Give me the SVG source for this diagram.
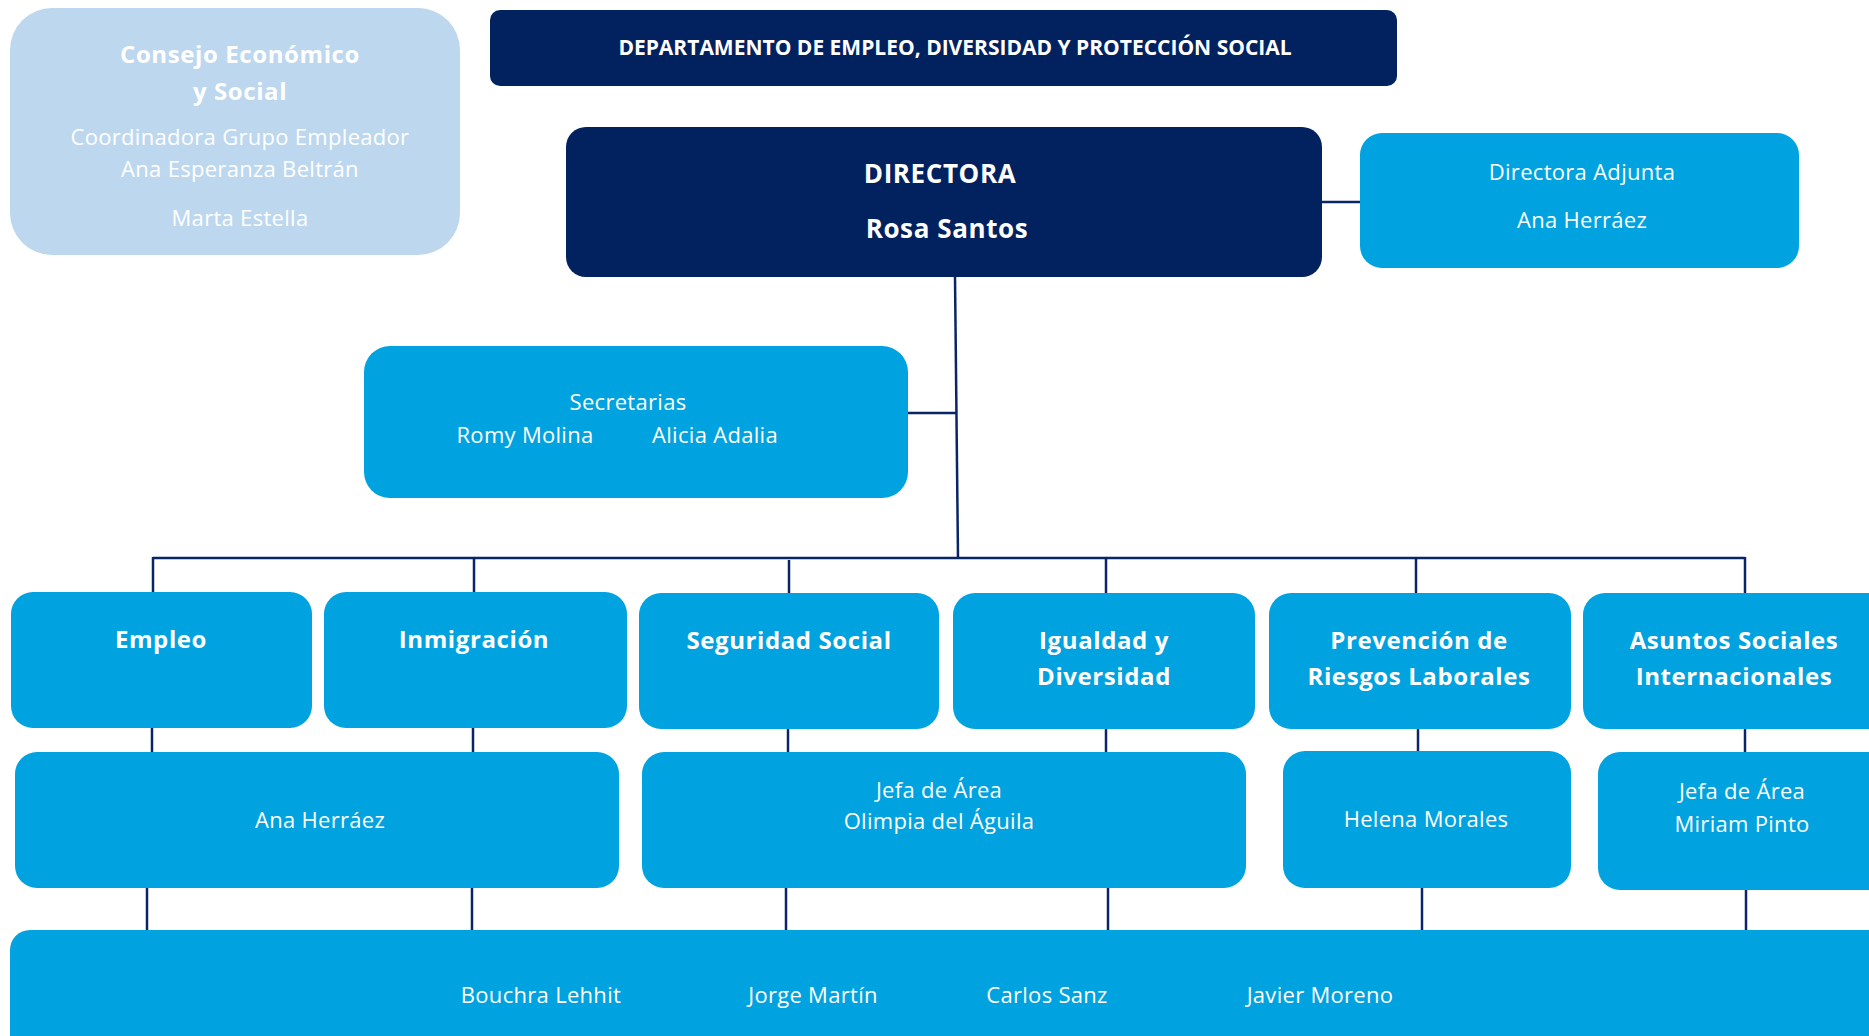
<svg xmlns="http://www.w3.org/2000/svg" width="1869" height="1036" viewBox="0 0 1869 1036">
<style>
.navy{fill:#02215F}
.blue{fill:#00A2E0}
.light{fill:#BDD7EE}
text{font-family:"Open Sans","Noto Sans",sans-serif;fill:#fff;text-anchor:middle}
.b{font-weight:700}
.r{font-weight:400;font-size:22px;letter-spacing:0.3px}
.h{font-weight:700;font-size:24px;letter-spacing:0.6px}
.conn line{stroke:#0A2566;stroke-width:2.5;fill:none}
</style>
<rect width="1869" height="1036" fill="#fff"/>
<g class="conn">
<line x1="955" y1="277" x2="958" y2="558"/>
<line x1="908" y1="413" x2="956" y2="413"/>
<line x1="1322" y1="202" x2="1360" y2="202"/>
<line x1="153" y1="558" x2="1745" y2="558"/>
<line x1="153" y1="557" x2="153" y2="592"/>
<line x1="474" y1="557" x2="474" y2="592"/>
<line x1="789" y1="560" x2="789" y2="593"/>
<line x1="1106" y1="557" x2="1106" y2="593"/>
<line x1="1416" y1="557" x2="1416" y2="593"/>
<line x1="1745" y1="557" x2="1745" y2="593"/>
<line x1="152" y1="728" x2="152" y2="752"/>
<line x1="473" y1="728" x2="473" y2="752"/>
<line x1="788" y1="729" x2="788" y2="752"/>
<line x1="1106" y1="729" x2="1106" y2="752"/>
<line x1="1418" y1="729" x2="1418" y2="751"/>
<line x1="1745" y1="729" x2="1745" y2="752"/>
<line x1="147" y1="888" x2="147" y2="930"/>
<line x1="472" y1="888" x2="472" y2="930"/>
<line x1="786" y1="888" x2="786" y2="930"/>
<line x1="1108" y1="888" x2="1108" y2="930"/>
<line x1="1422" y1="888" x2="1422" y2="930"/>
<line x1="1746" y1="888" x2="1746" y2="930"/>
</g>
<g id="consejo">
<rect class="light" x="10" y="8" width="450" height="247" rx="42"/>
<text class="b" x="240" y="63" font-size="24" letter-spacing="0.6">Consejo Económico</text>
<text class="b" x="240" y="100" font-size="24" letter-spacing="0.6">y Social</text>
<text class="r" x="240" y="145">Coordinadora Grupo Empleador</text>
<text class="r" x="240" y="177">Ana Esperanza Beltrán</text>
<text class="r" x="240" y="226">Marta Estella</text>
</g>
<g id="departamento">
<rect class="navy" x="490" y="10" width="907" height="76" rx="10"/>
<text class="b" x="955" y="55" font-size="21">DEPARTAMENTO DE EMPLEO, DIVERSIDAD Y PROTECCIÓN SOCIAL</text>
</g>
<g id="directora">
<rect class="navy" x="566" y="127" width="756" height="150" rx="20"/>
<text class="b" x="940" y="183" font-size="26" letter-spacing="0.6">DIRECTORA</text>
<text class="b" x="947" y="238" font-size="26" letter-spacing="0.6">Rosa Santos</text>
</g>
<g id="adjunta">
<rect class="blue" x="1360" y="133" width="439" height="135" rx="22"/>
<text class="r" x="1582" y="180">Directora Adjunta</text>
<text class="r" x="1582" y="228">Ana Herráez</text>
</g>
<g id="secretarias">
<rect class="blue" x="364" y="346" width="544" height="152" rx="26"/>
<text class="r" x="628" y="410">Secretarias</text>
<text class="r" x="525" y="443">Romy Molina</text>
<text class="r" x="715" y="443">Alicia Adalia</text>
</g>
<g id="empleo">
<rect class="blue" x="11" y="592" width="301" height="136" rx="22"/>
<text class="h" x="161" y="648">Empleo</text>
</g>
<g id="inmigracion">
<rect class="blue" x="324" y="592" width="303" height="136" rx="22"/>
<text class="h" x="474" y="648">Inmigración</text>
</g>
<g id="seguridad">
<rect class="blue" x="639" y="593" width="300" height="136" rx="22"/>
<text class="h" x="789" y="649">Seguridad Social</text>
</g>
<g id="igualdad">
<rect class="blue" x="953" y="593" width="302" height="136" rx="22"/>
<text class="h" x="1104" y="649">Igualdad y</text>
<text class="h" x="1104" y="685">Diversidad</text>
</g>
<g id="prevencion">
<rect class="blue" x="1269" y="593" width="302" height="136" rx="22"/>
<text class="h" x="1419" y="649">Prevención de</text>
<text class="h" x="1419" y="685">Riesgos Laborales</text>
</g>
<g id="asuntos">
<rect class="blue" x="1583" y="593" width="320" height="136" rx="22"/>
<text class="h" x="1734" y="649">Asuntos Sociales</text>
<text class="h" x="1734" y="685">Internacionales</text>
</g>
<g id="ana-herraez">
<rect class="blue" x="15" y="752" width="604" height="136" rx="22"/>
<text class="r" x="320" y="828">Ana Herráez</text>
</g>
<g id="olimpia">
<rect class="blue" x="642" y="752" width="604" height="136" rx="22"/>
<text class="r" x="939" y="798">Jefa de Área</text>
<text class="r" x="939" y="829">Olimpia del Águila</text>
</g>
<g id="helena">
<rect class="blue" x="1283" y="751" width="288" height="137" rx="22"/>
<text class="r" x="1426" y="827">Helena Morales</text>
</g>
<g id="miriam">
<rect class="blue" x="1598" y="752" width="300" height="138" rx="22"/>
<text class="r" x="1742" y="799">Jefa de Área</text>
<text class="r" x="1742" y="832">Miriam Pinto</text>
</g>
<g id="equipo">
<rect class="blue" x="10" y="930" width="1890" height="130" rx="20"/>
<text class="r" x="541" y="1003">Bouchra Lehhit</text>
<text class="r" x="813" y="1003">Jorge Martín</text>
<text class="r" x="1047" y="1003">Carlos Sanz</text>
<text class="r" x="1320" y="1003">Javier Moreno</text>
</g>
</svg>
